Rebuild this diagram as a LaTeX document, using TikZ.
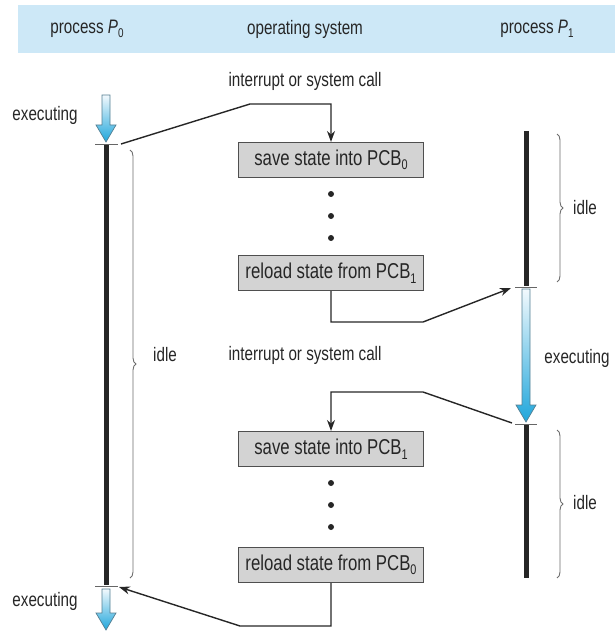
\documentclass[tikz,border=0pt]{standalone}
\usepackage{fontspec}
\setmainfont{Liberation Sans}[FakeStretch=0.78]
\usetikzlibrary{arrows.meta,decorations.pathreplacing}

\definecolor{bandblue}{HTML}{CDE8F7}
\definecolor{boxgray}{HTML}{D3D3D3}
\definecolor{boxedge}{HTML}{4F4F4F}
\definecolor{inkdark}{HTML}{262626}
\definecolor{runtop}{HTML}{F2F9FD}
\definecolor{runbot}{HTML}{1FA6DB}
\definecolor{runedge}{HTML}{557F92}

% lowered index digit used in P_0, PCB_1, ...
\newcommand\lowdigit[1]{\raisebox{-0.4ex}{\fontsize{0.65em}{1em}\selectfont #1}}

% shaded block arrow: x, y of tail, y of tip
\newcommand\runarrow[3]{%
  \path[top color=runtop, bottom color=runbot, draw=runedge, line width=0.7pt]
    ({#1-4},#2) -- ({#1-4},{#3-17}) -- ({#1-10},{#3-17}) -- (#1,#3)
    -- ({#1+10},{#3-17}) -- ({#1+4},{#3-17}) -- ({#1+4},#2) -- cycle;}

\begin{document}
\begin{tikzpicture}[x=1pt, y=-1pt,
  lbl/.style={font=\fontsize{19.5}{21}\selectfont, text=inkdark, inner sep=0pt},
  statebox/.style={rectangle, draw=boxedge, fill=boxgray, line width=1.1pt,
    minimum width=185pt, minimum height=35pt, inner sep=0pt,
    font=\fontsize{21.5}{23}\selectfont, text=inkdark},
  timeline/.style={line width=5pt, draw=inkdark},
  tick/.style={line width=0.8pt, draw=gray!80!black},
  link/.style={line width=1.4pt, draw=inkdark, -{Stealth[length=11pt, width=8pt]}},
  bracket/.style={decorate, decoration={brace, amplitude=6pt}, draw=gray!85!black, line width=0.9pt},
  dot/.style={circle, fill=inkdark, inner sep=0pt, minimum size=6pt}]

\useasboundingbox (0,0) rectangle (615,631);

% header band
\fill[bandblue] (18,5) rectangle (615,53);
\node[lbl] (h0) at (87,29) {process \textit{P}\lowdigit{0}};
\node[lbl] (hos) at (305,29) {operating system};
\node[lbl] (h1) at (537,29) {process \textit{P}\lowdigit{1}};

% process P0 time line
\runarrow{106}{95}{142}
\draw[timeline] (106,145) -- (106,585);
\draw[tick] (95,144) -- (118,144);
\draw[tick] (95,586) -- (118,586);
\runarrow{106}{589}{630}
\node[lbl] (ex0a) at (45,115) {executing};
\node[lbl] (ex0b) at (45,601) {executing};
\draw[bracket] (130,150) -- (130,578);
\node[lbl, anchor=west] (idle0) at (153,355) {idle};

% process P1 time line
\draw[timeline] (526,131) -- (526,286);
\draw[tick] (515,287) -- (537,287);
\runarrow{526}{289}{422}
\draw[tick] (515,424) -- (537,424);
\draw[timeline] (526,425) -- (526,578);
\draw[bracket] (557,134) -- (557,282);
\node[lbl, anchor=west] (idle1a) at (573,208) {idle};
\node[lbl] (ex1) at (577,358) {executing};
\draw[bracket] (557,430) -- (557,578);
\node[lbl, anchor=west] (idle1b) at (573,503) {idle};

% operating system column
\node[lbl] (int1) at (305,81) {interrupt or system call};
\node[statebox] (b1) at (331,160) {save state into PCB\lowdigit{0}};
\node[dot] (d1) at (331,194) {};
\node[dot] (d2) at (331,216) {};
\node[dot] (d3) at (331,238) {};
\node[statebox] (b2) at (331,273) {reload state from PCB\lowdigit{1}};

\node[lbl] (int2) at (305,355) {interrupt or system call};
\node[statebox] (b3) at (331,449) {save state into PCB\lowdigit{1}};
\node[dot] (d4) at (331,483) {};
\node[dot] (d5) at (331,505) {};
\node[dot] (d6) at (331,527) {};
\node[statebox] (b4) at (331,565) {reload state from PCB\lowdigit{0}};

% control transfers
\coordinate (p0stop) at (121,144);
\coordinate (p1go) at (511,288);
\coordinate (p1stop) at (512,423);
\coordinate (p0go) at (119,587);

\draw[link] (p0stop) -- (250,104) -| (b1.north);
\draw[link] (b2.south) |- (423,322) -- (p1go);
\draw[link] (p1stop) -- (423,392) -| (b3.north);
\draw[link] (b4.south) |- (240,626) -- (p0go);
\end{tikzpicture}
\end{document}
